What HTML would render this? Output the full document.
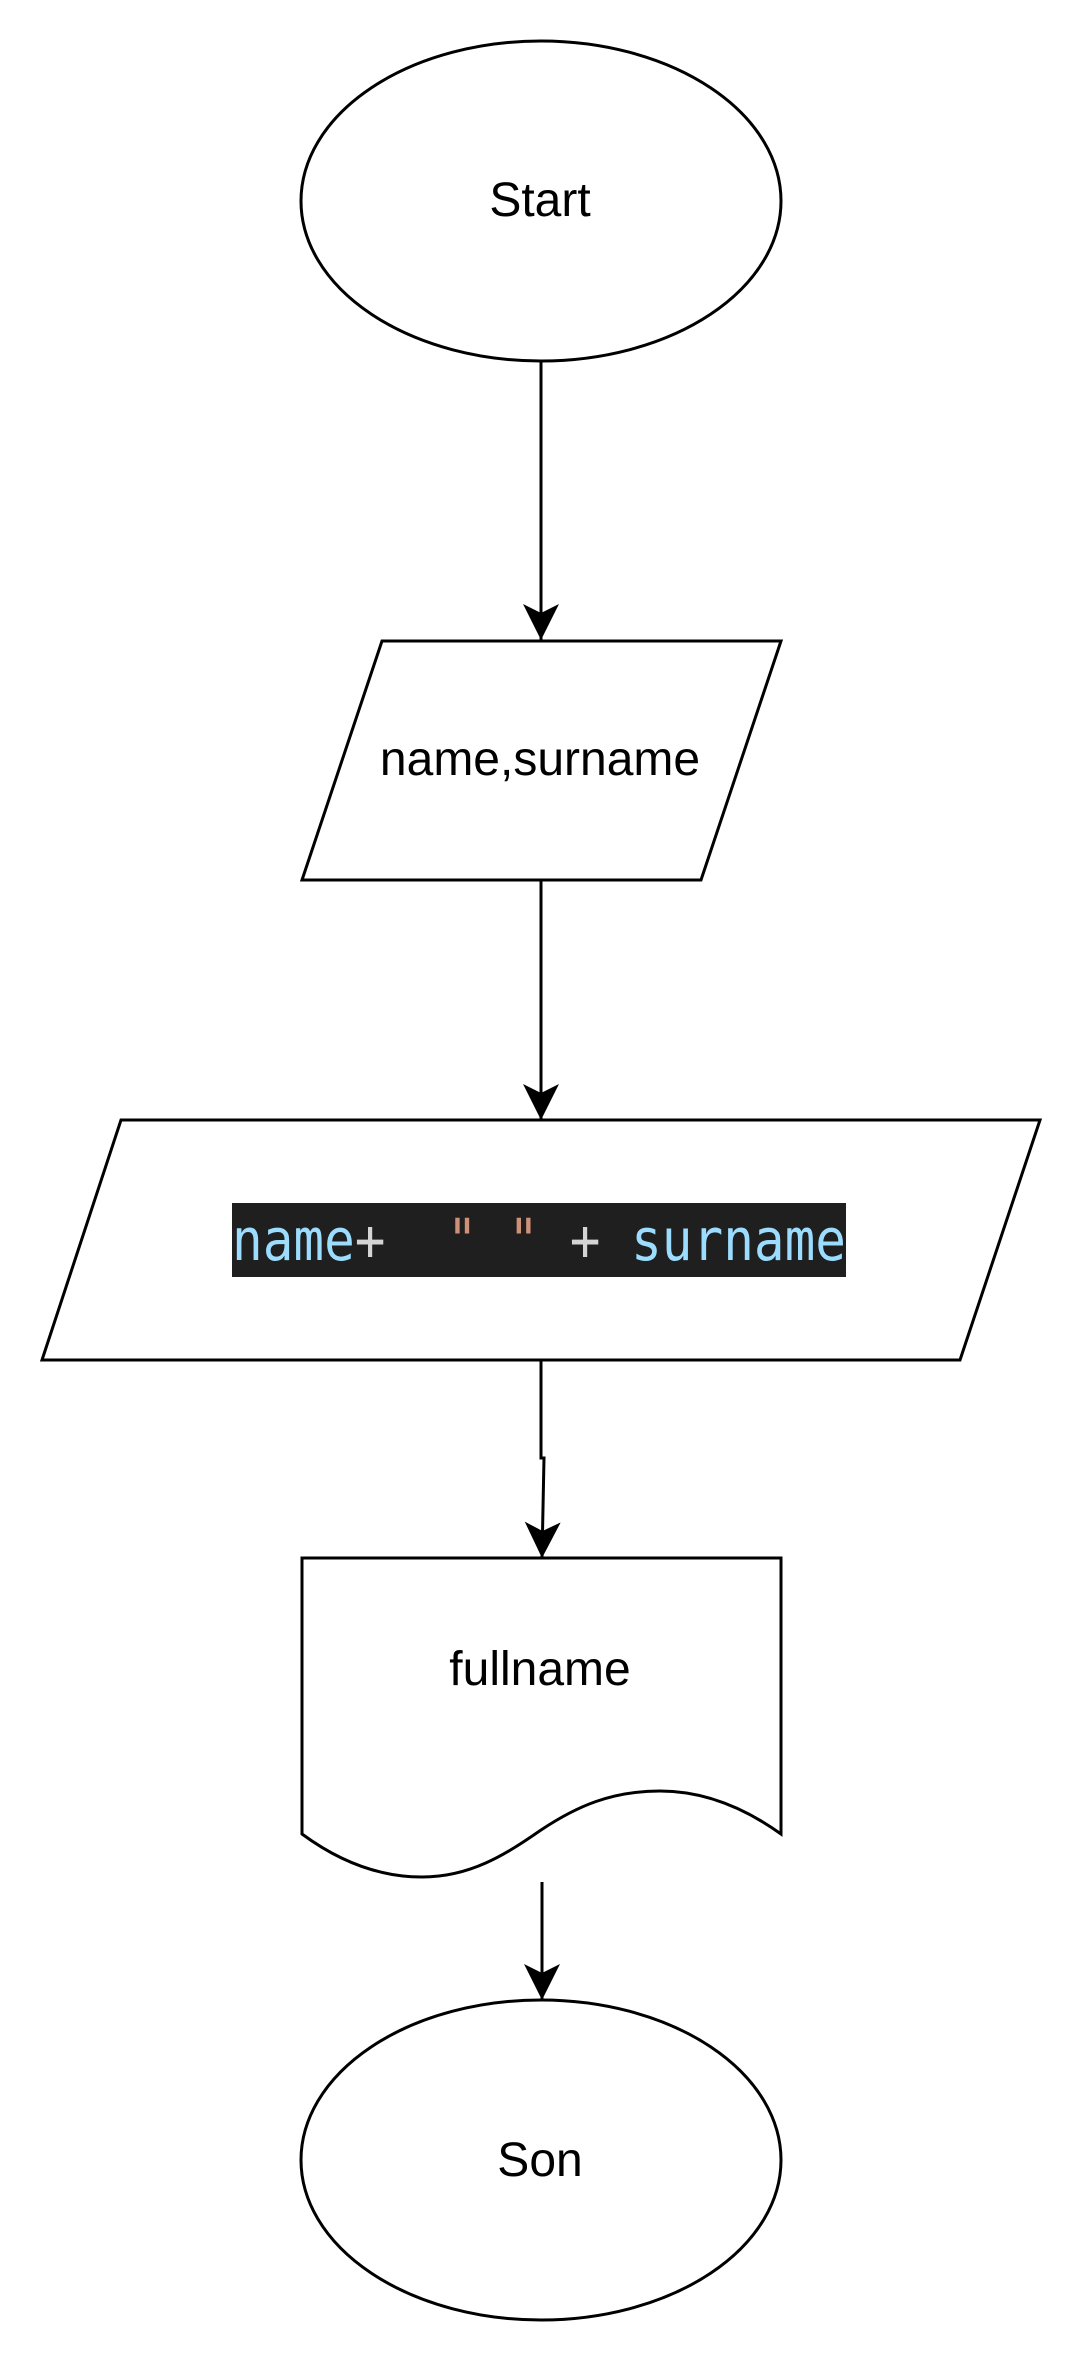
<!DOCTYPE html>
<html><head><meta charset="utf-8"><style>
html,body{margin:0;padding:0;background:#fff;width:1084px;height:2364px;overflow:hidden}
svg{display:block}
</style></head><body>
<svg width="1084" height="2364" viewBox="0 0 1084 2364" xmlns="http://www.w3.org/2000/svg">
<defs>
<marker id="a" markerWidth="40" markerHeight="40" refX="36" refY="18" orient="auto" markerUnits="userSpaceOnUse">
<path d="M0,0 L36,18 L0,36 L9,18 Z" fill="#000"/>
</marker>
</defs>
<g fill="none" stroke="#000" stroke-width="3">
<ellipse cx="541" cy="201" rx="240" ry="160" fill="#fff"/>
<line x1="541" y1="361" x2="541" y2="640" marker-end="url(#a)"/>
<polygon points="382,641 781,641 701,880 302,880" fill="#fff"/>
<line x1="541" y1="880" x2="541" y2="1120" marker-end="url(#a)"/>
<polygon points="121,1120 1040,1120 960,1360 42,1360" fill="#fff"/>
<polyline points="541,1360 541,1458 544,1458 542,1558" marker-end="url(#a)"/>
<path d="M302,1558 L781,1558 L781,1834 C742,1806 702,1791 660,1791 C612,1791 577,1806 541,1830 C505,1855 470,1877 422,1877 C380,1877 340,1862 302,1834 Z" fill="#fff"/>
<line x1="542" y1="1882" x2="542" y2="2000" marker-end="url(#a)"/>
<ellipse cx="541" cy="2160" rx="240" ry="160" fill="#fff"/>
</g>
<g font-family="Liberation Sans, Arial, sans-serif" font-size="48" fill="#000" text-anchor="middle">
<text x="540" y="216">Start</text>
<text x="540" y="775">name,surname</text>
<text x="540" y="1685">fullname</text>
<text x="540" y="2176">Son</text>
</g>
<rect x="232" y="1203" width="614" height="74" fill="#1f1f1f"/>
<text x="232" y="1260" font-family="DejaVu Sans Mono, Liberation Mono, monospace" font-size="58" textLength="614" lengthAdjust="spacingAndGlyphs" xml:space="preserve"><tspan fill="#9cdcfe">name</tspan><tspan fill="#d4d4d4">+  </tspan><tspan fill="#ce9178">" "</tspan><tspan fill="#d4d4d4"> + </tspan><tspan fill="#9cdcfe">surname</tspan></text>
</svg>
</body></html>
